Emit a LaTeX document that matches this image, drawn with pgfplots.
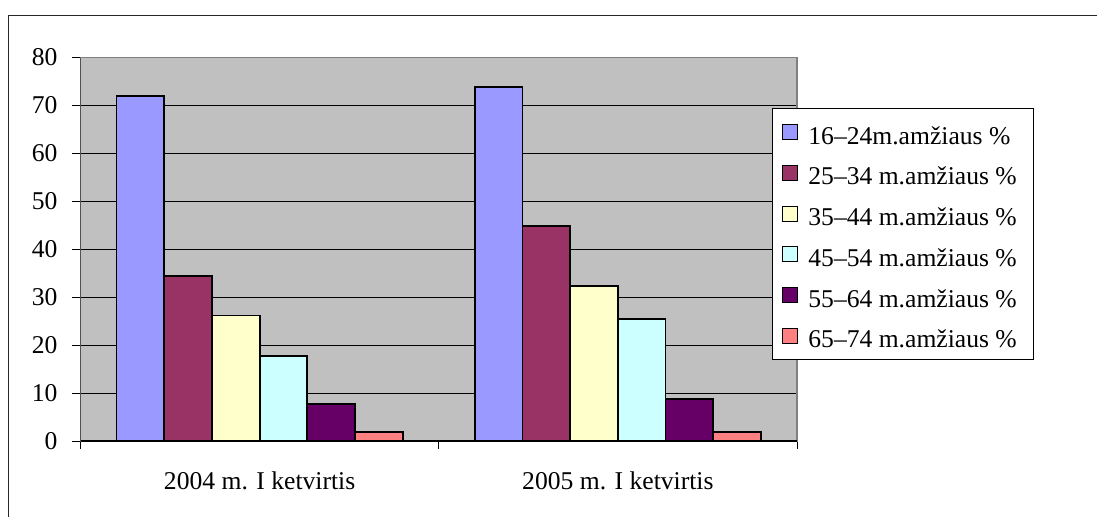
\documentclass[border=0pt]{standalone}
\usepackage{fontspec}
\setmainfont{Liberation Serif}
\usepackage{pgfplots}
\pgfplotsset{compat=1.18}

% Excel-style palette
\definecolor{cA}{HTML}{9999FF}
\definecolor{cB}{HTML}{993366}
\definecolor{cC}{HTML}{FFFFCC}
\definecolor{cD}{HTML}{CCFFFF}
\definecolor{cE}{HTML}{660066}
\definecolor{cF}{HTML}{FF8080}
\definecolor{plotbg}{HTML}{C0C0C0}
\definecolor{plotedge}{HTML}{808080}

\newcommand\chartfont{\fontsize{12.8pt}{15pt}\selectfont}

\pgfplotsset{
  sq legend/.style={
    legend image code/.code={
      \draw[##1,line width=0.6pt] (0pt,-3.75pt) rectangle (7.5pt,3.75pt);
    }
  }
}

\begin{document}
\begin{tikzpicture}
\useasboundingbox (0,0) rectangle (548.5pt,258pt);
% outer chart frame
\draw[line width=0.8pt, black!85] (4.25pt,-2pt) -- (4.25pt,250.25pt) -- (551pt,250.25pt);
\begin{axis}[
  at={(40.25pt,37.5pt)}, anchor=south west,
  scale only axis, width=358.25pt, height=191.75pt,
  xmin=-0.5, xmax=1.5, ymin=0, ymax=80,
  ytick distance=10,
  xtick={-0.5,0.5,1.5},
  x tick label as interval,
  xticklabels={2004 m. I ketvirtis, 2005 m. I ketvirtis},
  xtick pos=bottom, ytick pos=left,
  tick align=outside,
  major tick length=4pt,
  tick style={black, line width=0.5pt},
  ymajorgrids,
  major grid style={black, line width=0.5pt},
  axis background/.style={fill=plotbg},
  axis line style={plotedge, line width=0.6pt},
  /pgf/number format/assume math mode=true,
  tick label style={font=\chartfont},
  yticklabel style={anchor=east, xshift=-4pt},
  xticklabel style={anchor=base, yshift=-20pt},
  ybar=0pt, bar width=23.85pt,
  every axis plot post/.append style={sq legend},
  legend cell align=left,
  legend style={
    at={(0.9647,0.869)}, anchor=north west,
    font=\chartfont,
    draw=black, line width=0.5pt, fill=white,
    inner xsep=5pt, inner ysep=5pt,
    row sep=6.35pt,
    nodes={inner sep=0pt, text height=13pt, text depth=1pt},
    /tikz/every odd column/.append style={column sep=1.5pt},
    /tikz/every even column/.append style={nodes={inner xsep=3.5pt}},
  },
]
\addplot[fill=cA, draw=black, line width=0.9pt] coordinates {(0,72.0) (1,73.8)};
\addplot[fill=cB, draw=black, line width=0.9pt] coordinates {(0,34.5) (1,44.9)};
\addplot[fill=cC, draw=black, line width=0.9pt] coordinates {(0,26.2) (1,32.4)};
\addplot[fill=cD, draw=black, line width=0.9pt] coordinates {(0,17.8) (1,25.4)};
\addplot[fill=cE, draw=black, line width=0.9pt] coordinates {(0,7.8) (1,8.7)};
\addplot[fill=cF, draw=black, line width=0.9pt] coordinates {(0,1.9) (1,1.9)};
\legend{16--24m.amžiaus \%, 25--34 m.amžiaus \%, 35--44 m.amžiaus \%, 45--54 m.amžiaus \%, 55--64 m.amžiaus \%, 65--74 m.amžiaus \%}
% value axis and category axis lines
\draw[black, line width=0.6pt] (rel axis cs:0,1) -- (rel axis cs:0,0) -- (rel axis cs:1,0);
\end{axis}
\end{tikzpicture}
\end{document}
